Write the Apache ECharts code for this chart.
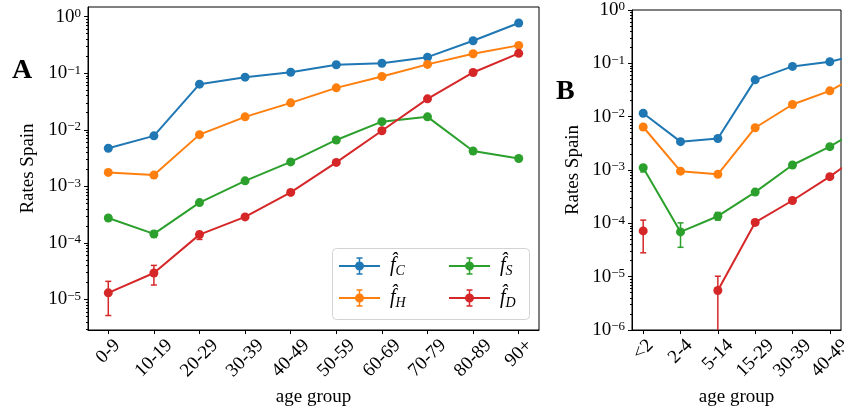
<!DOCTYPE html>
<html><head><meta charset="utf-8">
<script src="https://cdn.jsdelivr.net/npm/echarts@6/dist/echarts.min.js"></script>
<style>html,body{margin:0;padding:0;background:#fff}#c{width:844px;height:410px}</style>
</head><body><div id="c"></div>
<script>
// ---------- data ----------
const catsA = ['0-9','10-19','20-29','30-39','40-49','50-59','60-69','70-79','80-89','90+'];
const fC_A = [0.0047, 0.0078, 0.064, 0.085, 0.104, 0.141, 0.150, 0.192, 0.375, 0.77];
const fH_A = [0.00176, 0.00158, 0.0082, 0.0169, 0.0299, 0.055, 0.0875, 0.143, 0.221, 0.31];
const fS_A = [0.000276, 0.000144, 0.000515, 0.00125, 0.0027, 0.0066, 0.0139, 0.0169, 0.0042, 0.0031];
const fD_A = [1.31e-5, 2.94e-5, 1.40e-4, 2.88e-4, 7.8e-4, 0.00265, 0.0096, 0.0352, 0.103, 0.224];
// error bars [low, high] (null = hidden under marker)
const errS_A = [[2.5e-4, 3.0e-4], [1.25e-4, 1.6e-4], null, null, null, null, null, null, null, null];
const errD_A = [[5.2e-6, 2.09e-5], [1.8e-5, 4.0e-5], [1.15e-4, 1.58e-4], null, null, null, null, null, null, null];

const catsB = ['<2','2-4','5-14','15-29','30-39','40-49','50-59'];
const fC_B = [0.0116, 0.0034, 0.0039, 0.049, 0.0875, 0.107, 0.158];
const fH_B = [0.0064, 0.00095, 0.00083, 0.0062, 0.0169, 0.0305, 0.073];
const fS_B = [0.0011, 6.9e-5, 1.36e-4, 3.85e-4, 0.00124, 0.00274, 0.0072];
const fD_B = [7.2e-5, null, 5.5e-6, 1.04e-4, 2.68e-4, 7.5e-4, 0.0024];
const errS_B = [[0.00092, 0.00122], [3.55e-5, 1.02e-4], [1.15e-4, 1.6e-4], null, null, null, null];
const errD_B = [[2.8e-5, 1.15e-4], null, [1e-9, 1.02e-5], [0.92e-4, 1.17e-4], null, null, null];

const seriesNames = ['fC', 'fH', 'fS', 'fD'];
const colors = ['#1f77b4', '#ff7f0e', '#2ca02c', '#d62728'];
const majorsA = [-5, -4, -3, -2, -1, 0];
const majorsB = [-6, -5, -4, -3, -2, -1, 0];

// ---------- helpers ----------
const FF = 'Liberation Serif';
const lg = v => Math.log10(v);
function minors(min, max) {
  const out = [];
  for (let n = -8; n <= 1; n++) for (let k = 2; k <= 9; k++) {
    const v = n + Math.log10(k);
    if (v >= min && v <= max) out.push(v);
  }
  return out;
}
const yRich = {
  b: {fontSize: 19, fontFamily: FF, color: '#000', verticalAlign: 'bottom'},
  s: {fontSize: 13, fontFamily: FF, color: '#000', verticalAlign: 'top'}
};
const yFmt = v => { const n = Math.round(v); return n === 0 ? '{b|10}{s|0}' : '{b|10}{s|\u2212' + (-n) + '}'; };

const ctx = document.createElement('canvas').getContext('2d');
ctx.font = '19px "' + FF + '"';
function xRich(cats) {
  const rich = {};
  cats.forEach((c, i) => {
    const L = ctx.measureText(c).width, h = 13;
    const R = (L + h) / 2;
    rich['t' + i] = {padding: [R, R, 0, 0], fontSize: 19, fontFamily: FF, color: '#000'};
  });
  return rich;
}

function xAxis(grid, cats, min, max, n) {
  const vals = [];
  for (let i = 0; i < n; i++) vals.push(i);
  return {
    type: 'value', gridIndex: grid, min: min, max: max,
    name: 'age group', nameLocation: 'middle', nameGap: 55,
    nameTextStyle: {fontSize: 19, fontFamily: FF, color: '#000'},
    axisLine: {show: true, onZero: false, lineStyle: {color: '#000', width: 1}},
    axisTick: {show: true, length: 4, customValues: vals, lineStyle: {color: '#000'}},
    axisLabel: {customValues: vals, rotate: 45, align: 'center', verticalAlign: 'middle', margin: 8,
      formatter: v => { const i = Math.round(v); return '{t' + i + '|' + cats[i] + '}'; },
      rich: xRich(cats)},
    splitLine: {show: false}
  };
}
function yMain(grid, min, max, majors, gap) {
  return {
    type: 'value', gridIndex: grid, min: min, max: max, position: 'left',
    name: 'Rates Spain', nameLocation: 'middle', nameGap: gap, nameRotate: 90,
    nameTextStyle: {fontSize: 19, fontFamily: FF, color: '#000'},
    axisLine: {show: true, onZero: false, lineStyle: {color: '#000', width: 1}},
    axisTick: {show: true, length: 4, customValues: majors, lineStyle: {color: '#000'}},
    axisLabel: {customValues: majors, formatter: yFmt, rich: yRich, margin: 7},
    splitLine: {show: false}
  };
}
function yMinor(grid, min, max) {
  return {
    type: 'value', gridIndex: grid, min: min, max: max, position: 'left', offset: 0,
    axisLine: {show: false, onZero: false},
    axisTick: {show: true, length: 2, customValues: minors(min, max), lineStyle: {color: '#000'}},
    axisLabel: {show: false}, splitLine: {show: false}
  };
}

function lineSeries(name, vals, color, xi, yi) {
  return {
    type: 'line', name: name, xAxisIndex: xi, yAxisIndex: yi,
    data: vals.map((v, i) => [i, v == null ? '-' : lg(v)]),
    symbol: 'circle', symbolSize: 9, showSymbol: true, connectNulls: false,
    lineStyle: {color: color, width: 2}, itemStyle: {color: color},
    emphasis: {disabled: true}, clip: true, z: 3
  };
}
function errSeries(errs, color, xi, yi) {
  const data = [];
  errs.forEach((e, i) => { if (e) data.push([i, lg(e[0]), lg(e[1])]); });
  return {
    type: 'custom', xAxisIndex: xi, yAxisIndex: yi, data: data, clip: true, z: 2,
    encode: {x: 0, y: [1, 2]}, silent: true,
    renderItem: (params, api) => {
      const x = api.value(0);
      const p1 = api.coord([x, api.value(1)]), p2 = api.coord([x, api.value(2)]);
      const cw = 3, st = {stroke: color, lineWidth: 1.5};
      return {type: 'group', children: [
        {type: 'line', shape: {x1: p1[0], y1: p1[1], x2: p2[0], y2: p2[1]}, style: st},
        {type: 'line', shape: {x1: p1[0] - cw, y1: p1[1], x2: p1[0] + cw, y2: p1[1]}, style: st},
        {type: 'line', shape: {x1: p2[0] - cw, y1: p2[1], x2: p2[0] + cw, y2: p2[1]}, style: st}
      ]};
    }
  };
}

const ICON = 'path://M0,10 L41,10 L41,12 L0,12 Z M19.75,3 L21.25,3 L21.25,19 L19.75,19 Z M17.5,2.25 L23.5,2.25 L23.5,3.75 L17.5,3.75 Z M17.5,18.25 L23.5,18.25 L23.5,19.75 L17.5,19.75 Z M16,11 A4.5,4.5 0 1,1 25,11 A4.5,4.5 0 1,1 16,11 Z';
const legRich = {
  f: {fontSize: 20, fontFamily: FF, fontStyle: 'italic', color: '#000', padding: [0, 0, 0, 5], lineHeight: 24},
  sub: {fontSize: 14, fontFamily: FF, fontStyle: 'italic', color: '#000', verticalAlign: 'bottom', lineHeight: 18}
};
const legFmt = name => '{f|f\u0302}{sub|' + name.slice(1) + '}';
function legend(names, left) {
  return {data: names, orient: 'vertical', left: left, top: 256, padding: 0, itemGap: 10,
    itemWidth: 41, itemHeight: 17.5, icon: ICON, formatter: legFmt, selectedMode: false,
    textStyle: {rich: legRich}, itemStyle: {borderWidth: 0}, z: 5};
}

const yA = [-5.54, 0.17], yB = [-6, 0];
const series = [];
const valsA = [fC_A, fH_A, fS_A, fD_A], valsB = [fC_B, fH_B, fS_B, fD_B];
series.push(errSeries(errS_A, colors[2], 0, 0), errSeries(errD_A, colors[3], 0, 0));
series.push(errSeries(errS_B, colors[2], 1, 2), errSeries(errD_B, colors[3], 1, 2));
seriesNames.forEach((n, k) => {
  series.push(lineSeries(n, valsA[k], colors[k], 0, 0));
  series.push(lineSeries(n, valsB[k], colors[k], 1, 2));
});

const option = {
  animation: false,
  backgroundColor: '#fff',
  grid: [
    {left: 88, top: 7, width: 451, height: 323, show: true, borderColor: '#000', borderWidth: 1, backgroundColor: 'transparent', outerBoundsMode: 'none'},
    {left: 632, top: 10, width: 209, height: 320, show: true, borderColor: '#000', borderWidth: 1, backgroundColor: 'transparent', outerBoundsMode: 'none'}
  ],
  xAxis: [
    xAxis(0, catsA, -0.445, 9.445, catsA.length),
    xAxis(1, catsB, -0.3, 5.3, 6)
  ],
  yAxis: [
    yMain(0, yA[0], yA[1], majorsA, 50), yMinor(0, yA[0], yA[1]),
    yMain(1, yB[0], yB[1], majorsB, 49), yMinor(1, yB[0], yB[1])
  ],
  legend: [legend(['fC', 'fH'], 339), legend(['fS', 'fD'], 449)],
  graphic: [
    {type: 'rect', left: 332, top: 248, shape: {width: 197, height: 71, r: 4}, style: {fill: 'rgba(255,255,255,0.8)', stroke: '#d3d3d3', lineWidth: 1}, z: 4},
    {type: 'text', left: 12, top: 57, style: {text: 'A', font: 'bold 28px "Liberation Serif"', fill: '#000'}, z: 5},
    {type: 'text', left: 556, top: 78, style: {text: 'B', font: 'bold 28px "Liberation Serif"', fill: '#000'}, z: 5}
  ],
  series: series
};
const chart = echarts.init(document.getElementById('c'), null, {renderer: 'canvas'});
chart.setOption(option);
</script></body></html>
